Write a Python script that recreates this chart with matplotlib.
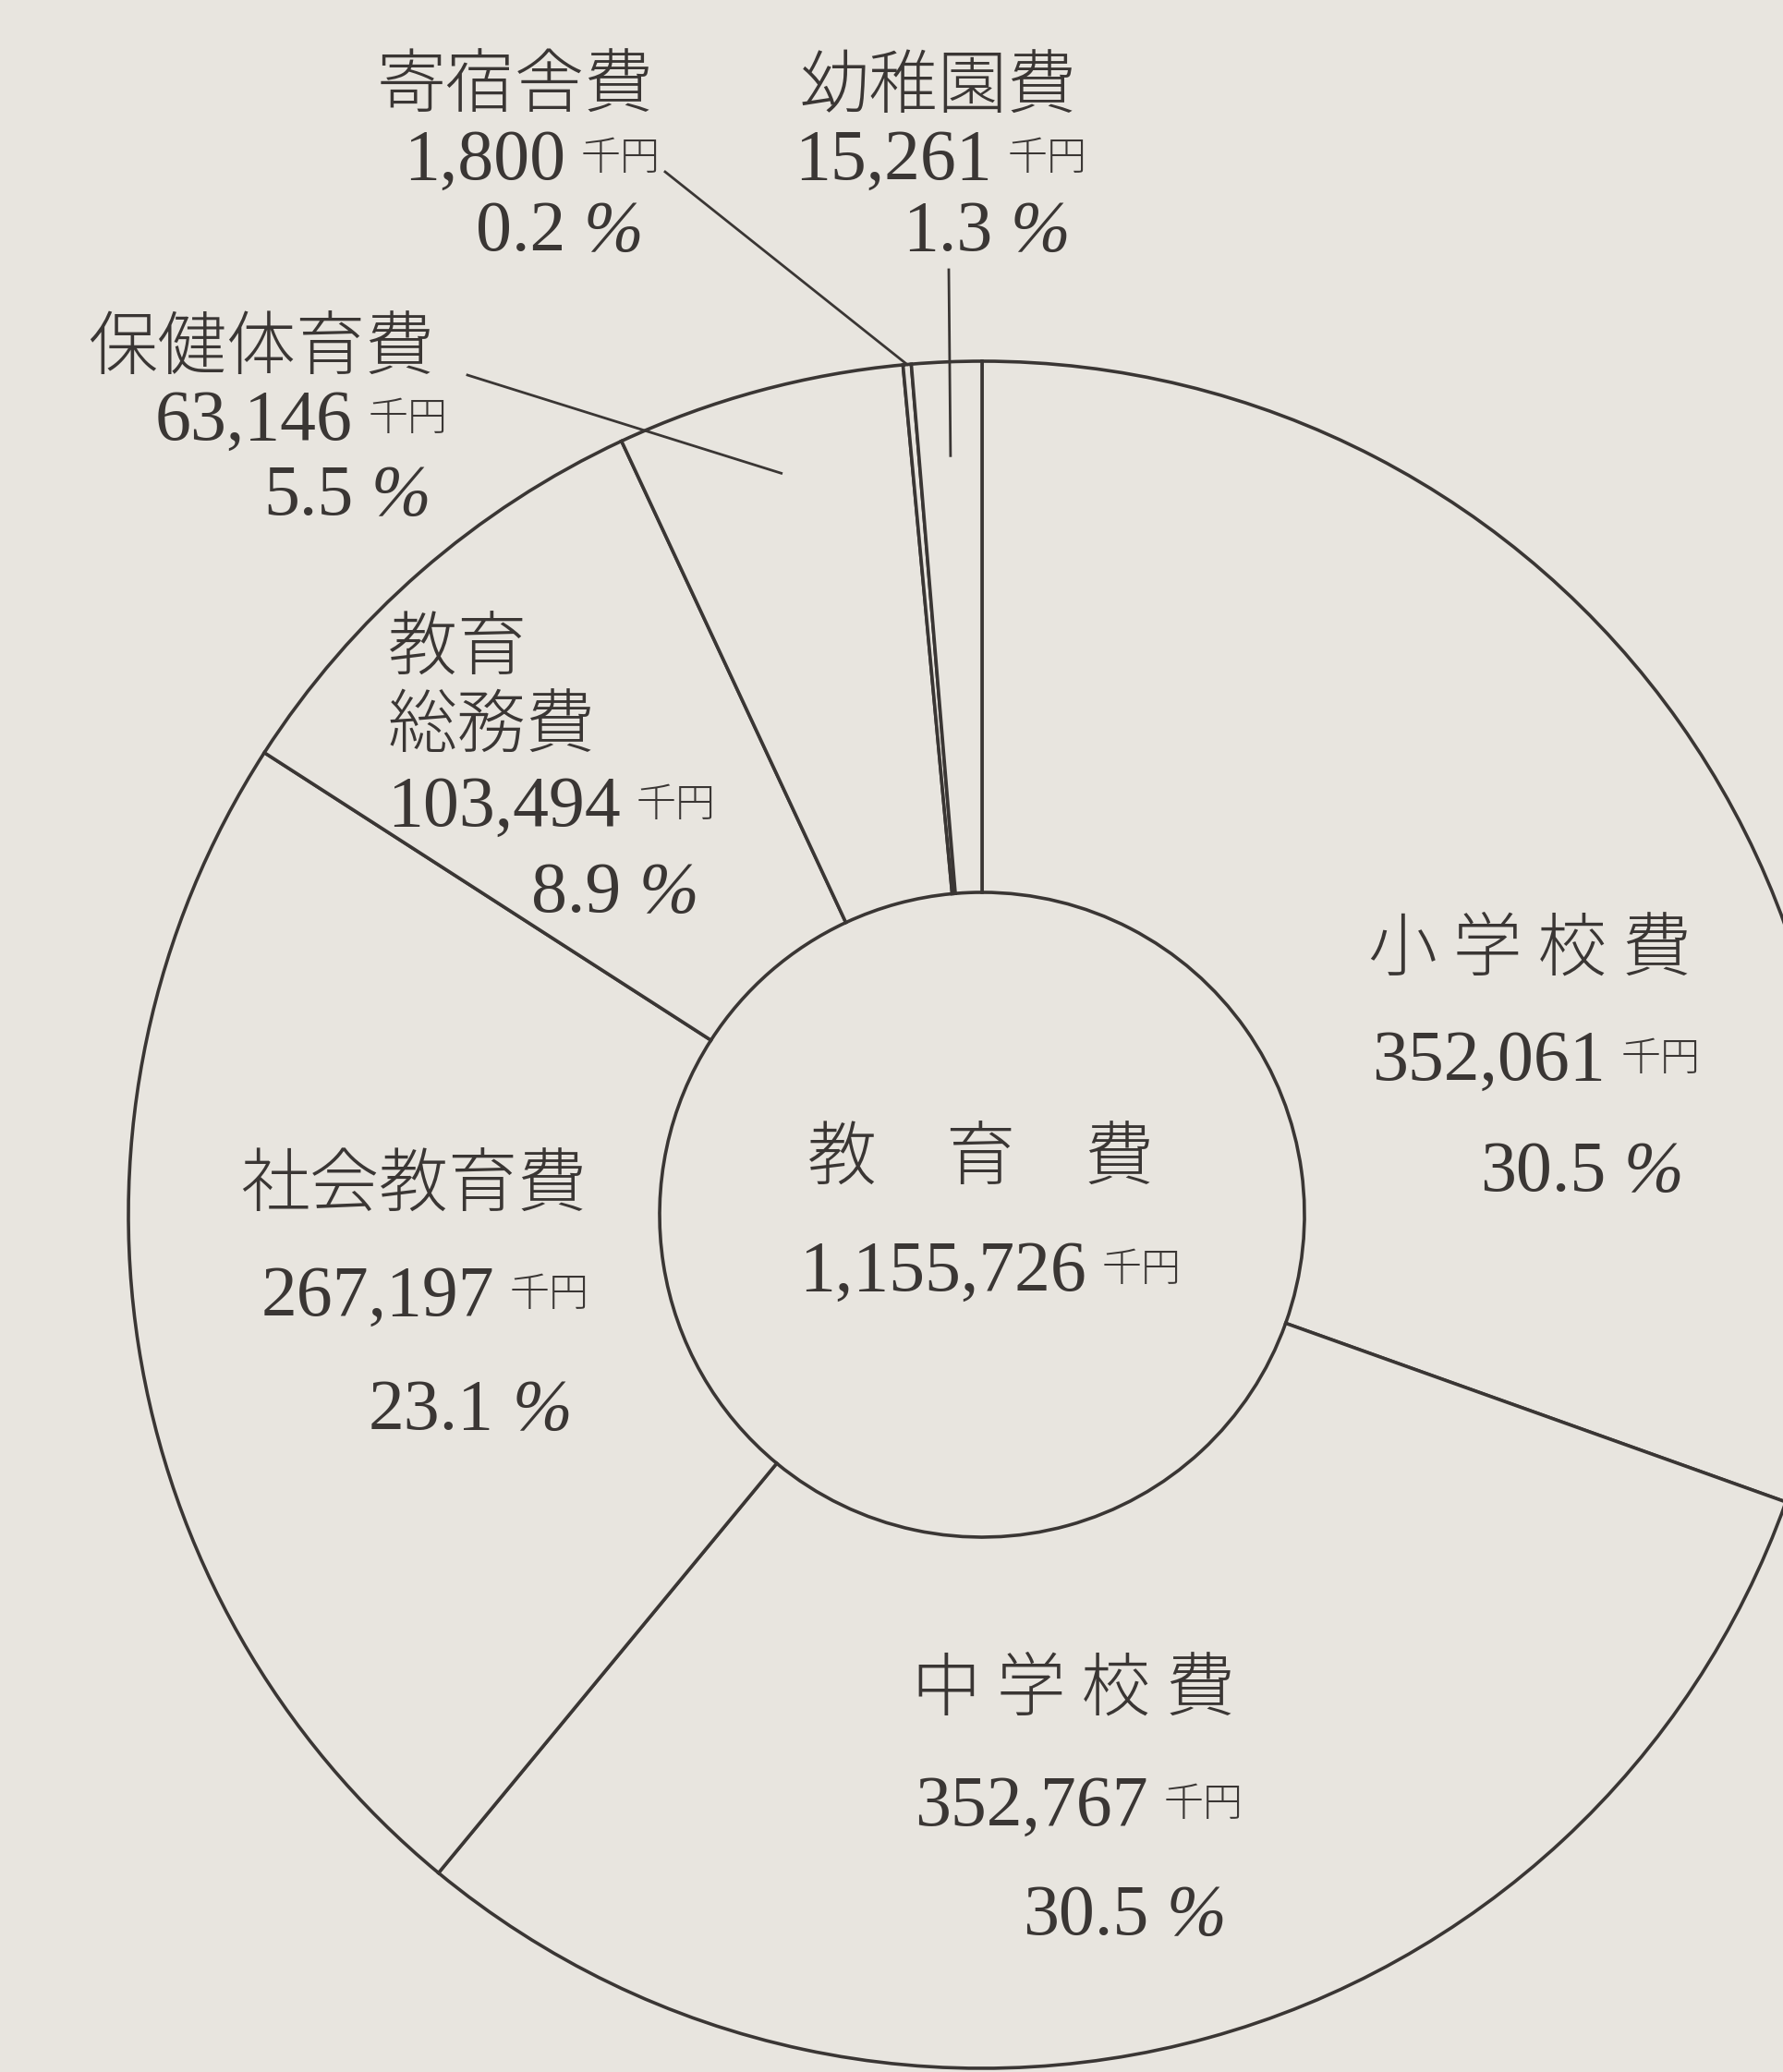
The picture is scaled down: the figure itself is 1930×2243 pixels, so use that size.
import math
import matplotlib
matplotlib.use("Agg")
import matplotlib.pyplot as plt

# ---- データ（単位: 千円）
items   = ["小学校費", "中学校費", "社会教育費", "教育総務費", "保健体育費", "寄宿舎費", "幼稚園費"]
amounts = [352061, 352767, 267197, 103494, 63146, 1800, 15261]
shares  = ["30.5", "30.5", "23.1", "8.9", "5.5", "0.2", "1.3"]
total_name = "教　育　費"
total = sum(amounts)   # 1,155,726

# ---- 体裁
BG  = "#e8e5df"
INK = "#3a3634"
JP  = ["Noto Sans CJK JP", "DejaVu Sans"]
NUM = ["Liberation Serif", "DejaVu Serif"]
FS_T, FS_N, FS_U, FS_P = 54, 56, 31, 56

W, H = 1930, 2243          # 画素座標（y は下向き）
CX, CY = 1063, 1315
R_OUT, R_IN = 924, 349

# ラベル配置: 表示名, 表示名の位置(x, y, ha), 数値の右端 x, 金額行 y, 比率行 y
layout = {
    "小学校費":   ("小 学 校 費", 1831, 1022, "right", 1738, 1143, 1263),
    "中学校費":   ("中 学 校 費", 1337, 1823, "right", 1243, 1950, 2068),
    "社会教育費": ("社会教育費", 635, 1278, "right", 535, 1398, 1521),
    "教育総務費": ("教育\n総務費", 420, 738, "left", 672, 868, 961),
    "保健体育費": ("保健体育費", 470, 372, "right", 382, 450, 531),
    "寄宿舎費":   ("寄宿舎費", 708, 88, "right", 612, 168, 245),
    "幼稚園費":   ("幼稚園費", 1166, 88, "right", 1074, 168, 245),
}

EM = 100 / 72  # 1pt -> px


def cjk(x, yc, s, fs=FS_T, ha="right"):
    ax.text(x, yc + 0.37 * fs * EM, s, fontsize=fs, family=JP, color=INK,
            ha=ha, va="baseline", fontweight="light")


def num(x, yc, s, fs=FS_N, ha="right", style="normal"):
    ax.text(x, yc + 0.33 * fs * EM, s, fontsize=fs, family=NUM, color=INK,
            ha=ha, va="baseline", style=style)


fig = plt.figure(figsize=(W / 100, H / 100), dpi=100, facecolor=BG)
ax = fig.add_axes([0, 0, 1, 1])
ax.set_facecolor(BG)

wedges, _ = ax.pie(amounts, center=(CX, CY), radius=R_OUT, startangle=-90,
                   counterclock=True,
                   wedgeprops=dict(width=R_OUT - R_IN, facecolor=BG,
                                   edgecolor=INK, linewidth=2.6))
ax.set_xlim(0, W)
ax.set_ylim(H, 0)
ax.set_aspect("equal")
ax.axis("off")

# ---- 各項目ラベル
for name, amt, pct in zip(items, amounts, shares):
    label, tx, ty, ha, xn, y2, y3 = layout[name]
    if "\n" in label:
        for k, part in enumerate(label.split("\n")):
            cjk(tx, ty - 41 + 83 * k, part, ha=ha)
    else:
        cjk(tx, ty, label, ha=ha)
    num(xn, y2, f"{amt:,}")
    cjk(xn + 17, y2, "千円", fs=FS_U, ha="left")
    num(xn, y3, pct)
    num(xn + 20, y3, "%", fs=FS_P, ha="left", style="italic")

# ---- 中央（合計）
cjk(1062, 1249, total_name, ha="center")
num(1176, 1371, f"{total:,}")
cjk(1176 + 17, 1371, "千円", fs=FS_U, ha="left")


# ---- 引出し線
def point(i, rf):
    w = wedges[i]
    th = math.radians((w.theta1 + w.theta2) / 2)
    return CX + rf * R_OUT * math.cos(th), CY + rf * R_OUT * math.sin(th)


leaders = [(items.index("寄宿舎費"), (720, 186), 1.0),
           (items.index("幼稚園費"), (1027, 292), 0.89),
           (items.index("保健体育費"), (506, 406), 0.9)]
for i, (x0, y0), rf in leaders:
    x1, y1 = point(i, rf)
    ax.plot([x0, x1], [y0, y1], color=INK, linewidth=2.0)

fig.savefig("out.png", dpi=100, facecolor=BG)
